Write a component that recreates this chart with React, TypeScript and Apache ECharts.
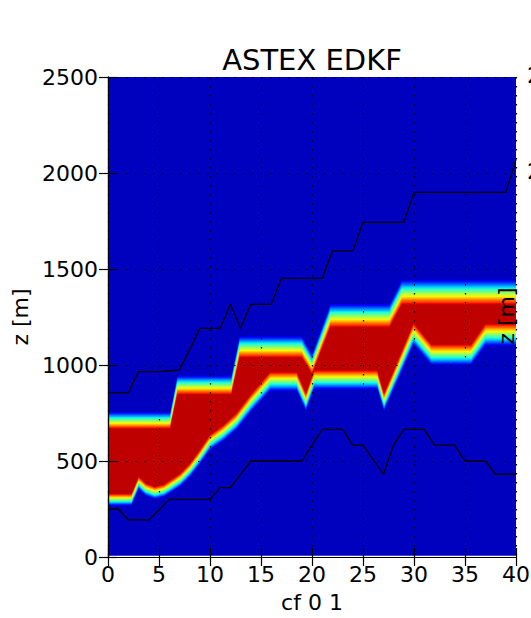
import React, { useEffect, useRef } from "react";
import * as echarts from "echarts";

// ---- data ----
const chartTitle = "ASTEX EDKF";
const xName = "cf 0 1";
const yName = "z [m]";
const xTicks = [0, 5, 10, 15, 20, 25, 30, 35, 40];
const yTicks = [0, 500, 1000, 1500, 2000, 2500];
const cfIndex = Array.from({ length: 41 }, (_, i) => i);
const cutTickLabels = ["2500", "2000"];

// upper black line (z, m) at cf index 0..40
const upperLine = [
  856, 856, 856, 966, 966, 966, 970, 974, 1080, 1191, 1191, 1191, 1316, 1191, 1316, 1316, 1316,
  1451, 1451, 1451, 1451, 1451, 1594, 1594, 1594, 1743, 1743, 1743, 1743, 1743, 1899, 1899, 1899,
  1899, 1899, 1899, 1899, 1899, 1899, 1899, 2070,
];
// lower black line (z, m) at cf index 0..40
const lowerLine = [
  250, 250, 193, 193, 193, 245, 300, 300, 300, 300, 300, 361, 361, 430, 500, 500, 500, 500, 500,
  500, 583, 665, 665, 665, 583, 583, 507, 431, 583, 665, 665, 665, 583, 583, 583, 500, 500, 500,
  431, 431, 431,
];
// cloud layer edges: [cf, z]
const cloudTop: [number, number][] = [
  [0, 712], [6.1, 712], [6.8, 896], [12.1, 896], [12.9, 1095], [19.0, 1095], [20.0, 1005],
  [21.8, 1258], [27.6, 1258], [28.8, 1380], [40, 1380],
];
const cloudBase: [number, number][] = [
  [0, 298], [2.3, 298], [3.0, 385], [3.7, 350], [4.6, 333], [5.5, 345], [7.1, 401], [8.06, 453],
  [9.04, 522], [10, 596], [11.3, 644], [12.6, 705], [14, 800], [15.9, 913], [18.5, 913],
  [19.4, 805], [20.2, 922], [26.4, 922], [27.06, 805], [29.95, 1160], [31.7, 1052], [35.6, 1052],
  [37, 1156], [40, 1156],
];

// ---- helpers ----
function pw(pts: number[][], v: number) {
  if (v <= pts[0][0]) return pts[0][1];
  for (let i = 0; i < pts.length - 1; i++) {
    const [a, fa] = pts[i];
    const [b, fb] = pts[i + 1];
    if (v <= b) return fa + ((fb - fa) * (v - a)) / (b - a);
  }
  return pts[pts.length - 1][1];
}
function jet(v: number) {
  const r = pw([[0, 0], [0.35, 0], [0.66, 1], [0.89, 1], [1, 0.5]], v);
  const g = pw([[0, 0], [0.125, 0], [0.375, 1], [0.64, 1], [0.91, 0], [1, 0]], v);
  const b = pw([[0, 0.5], [0.11, 1], [0.34, 1], [0.65, 0], [1, 0]], v);
  const h = (c: number) => Math.round(c * 255);
  return `rgb(${h(r)},${h(g)},${h(b)})`;
}

const FONT = "DejaVu Sans";
const V_OUT = 0.055;
const V_IN = 0.945;
const N_BANDS = 20;

export default function App() {
  const ref = useRef<HTMLDivElement>(null);
  useEffect(() => {
    if (!ref.current) return;
    const chart = echarts.init(ref.current, undefined, { renderer: "svg" });

    const xsSet = new Set<number>();
    cloudTop.forEach((p) => xsSet.add(p[0]));
    cloudBase.forEach((p) => xsSet.add(p[0]));
    for (let i = 0; i <= 160; i++) xsSet.add(i / 4);
    const xs = Array.from(xsSet).sort((a, b) => a - b);
    const hw = (z: number) => 22 + 0.03 * z;

    const renderItem = (_params: any, api: any) => {
      const children: any[] = [];
      const c = (x: number, z: number) => api.coord([x, z]);
      children.push({
        type: "polygon",
        shape: { points: [c(0, 7), c(40, 7), c(40, 2500), c(0, 2500)] },
        style: { fill: jet(V_OUT) },
      });
      for (let k = 0; k <= N_BANDS; k++) {
        const f = 1 - (2 * k) / N_BANDS;
        const topPts: number[][] = [];
        const botPts: number[][] = [];
        xs.forEach((x) => {
          const T = pw(cloudTop, x);
          const B = pw(cloudBase, x);
          const mid = (T + B) / 2;
          let t = T + f * hw(T);
          let b = B - f * hw(B);
          if (f < 0) {
            t = Math.max(t, mid);
            b = Math.min(b, mid);
          }
          topPts.push(c(x, t));
          botPts.push(c(x, b));
        });
        const v = V_OUT + ((V_IN - V_OUT) * (k + 1)) / (N_BANDS + 1);
        children.push({
          type: "polygon",
          shape: { points: topPts.concat(botPts.reverse()) },
          style: { fill: jet(v) },
        });
      }
      return { type: "group", children };
    };

    const axisCommon = {
      type: "value" as const,
      axisLine: { show: true, lineStyle: { color: "#000", width: 1.2 } },
      axisTick: { show: true, inside: true, length: 9, lineStyle: { color: "#000", width: 1.2 } },
      z: 10,
    };
    const lblStyle = { fontFamily: FONT, fontSize: 22, color: "#000" };
    const gridDots = { show: true, lineStyle: { color: "#000", width: 1.2, type: [1.5, 7.5] } };

    chart.setOption({
      animation: false,
      backgroundColor: "#fff",
      title: {
        text: chartTitle,
        left: 307,
        top: 40,
        textAlign: "center",
        textStyle: { fontFamily: FONT, fontSize: 29, fontWeight: "normal", color: "#000" },
      },
      grid: { left: 108, right: 15, top: 77, bottom: 61, outerBoundsMode: "none", containLabel: false },
      xAxis: [
        {
          ...axisCommon,
          position: "bottom",
          min: xTicks[0],
          max: xTicks[xTicks.length - 1],
          interval: 5,
          name: xName,
          nameLocation: "middle",
          nameGap: 34,
          nameTextStyle: lblStyle,
          axisLabel: { ...lblStyle, margin: 6, formatter: (v: number) => String(v) },
          splitLine: gridDots,
        },
        {
          ...axisCommon,
          position: "top",
          min: xTicks[0],
          max: xTicks[xTicks.length - 1],
          interval: 5,
          axisLabel: { show: false },
          splitLine: { show: false },
        },
      ],
      yAxis: [
        {
          ...axisCommon,
          position: "left",
          min: yTicks[0],
          max: yTicks[yTicks.length - 1],
          interval: 500,
          name: yName,
          nameLocation: "middle",
          nameGap: 73,
          nameTextStyle: lblStyle,
          axisLabel: { ...lblStyle, margin: 10, formatter: (v: number) => String(v) },
          splitLine: gridDots,
        },
        {
          ...axisCommon,
          position: "right",
          min: yTicks[0],
          max: yTicks[yTicks.length - 1],
          interval: 500,
          axisLabel: { show: false },
          splitLine: { show: false },
        },
      ],
      graphic: [
        { type: "text", left: 527, top: 64, style: { text: cutTickLabels[0], fontFamily: FONT, fontSize: 22, fill: "#000" } },
        { type: "text", left: 527, top: 160, style: { text: cutTickLabels[1], fontFamily: FONT, fontSize: 22, fill: "#000" } },
        {
          type: "text",
          x: 506,
          y: 316,
          rotation: Math.PI / 2,
          z: 100,
          style: {
            text: yName,
            fontFamily: FONT,
            fontSize: 22,
            fill: "#000",
            align: "center",
            verticalAlign: "middle",
          },
        },
      ],
      series: [
        {
          type: "custom",
          renderItem,
          data: [[0, 0]],
          clip: true,
          silent: true,
          z: 1,
        },
        {
          type: "line",
          data: cfIndex.map((i) => [i, upperLine[i]]),
          showSymbol: false,
          lineStyle: { color: "#000", width: 1.3 },
          z: 3,
        },
        {
          type: "line",
          data: cfIndex.map((i) => [i, lowerLine[i]]),
          showSymbol: false,
          lineStyle: { color: "#000", width: 1.3 },
          z: 3,
        },
      ],
    });
    return () => chart.dispose();
  }, []);
  return (
    <div
      ref={ref}
      style={{ position: "fixed", left: 0, top: 0, width: 531, height: 618, background: "#fff" }}
    />
  );
}
